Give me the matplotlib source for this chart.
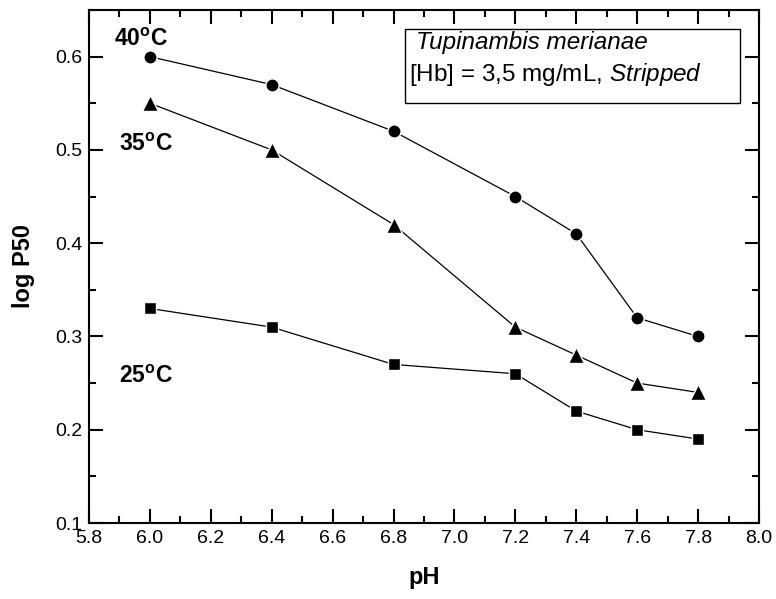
import matplotlib
matplotlib.use("Agg")
import matplotlib.pyplot as plt
from matplotlib.patches import Rectangle
from matplotlib.ticker import MultipleLocator, FormatStrFormatter

plt.rcParams["font.family"] = ["Liberation Sans", "DejaVu Sans"]
plt.rcParams["mathtext.fontset"] = "custom"
plt.rcParams["mathtext.rm"] = "Liberation Sans"
plt.rcParams["mathtext.it"] = "Liberation Sans:italic"
plt.rcParams["mathtext.bf"] = "Liberation Sans:bold"

ph = [6.0, 6.4, 6.8, 7.2, 7.4, 7.6, 7.8]
p50_40 = [0.60, 0.57, 0.52, 0.45, 0.41, 0.32, 0.30]
p50_35 = [0.55, 0.50, 0.42, 0.31, 0.28, 0.25, 0.24]
p50_25 = [0.33, 0.31, 0.27, 0.26, 0.22, 0.20, 0.19]

fig = plt.figure(figsize=(7.76, 5.99), dpi=100)
ax = fig.add_axes([89 / 776, 1 - 523 / 599, 670 / 776, 513 / 599])

style = dict(color="black", linewidth=0.9,
             markeredgecolor="white", markeredgewidth=1.0)
ax.plot(ph, p50_40, marker="o", markersize=9.5, **style)
ax.plot(ph, p50_35, marker="^", markersize=11, **style)
ax.plot(ph, p50_25, marker="s", markersize=9, **style)

ax.set_xlim(5.8, 8.0)
ax.set_ylim(0.1, 0.65)
ax.xaxis.set_major_locator(MultipleLocator(0.2))
ax.xaxis.set_minor_locator(MultipleLocator(0.1))
ax.yaxis.set_major_locator(MultipleLocator(0.1))
ax.yaxis.set_minor_locator(MultipleLocator(0.05))
ax.xaxis.set_major_formatter(FormatStrFormatter("%.1f"))
ax.yaxis.set_major_formatter(FormatStrFormatter("%.1f"))
ax.tick_params(which="both", direction="in", top=True, right=True, width=1.5,
               labelsize=14)
ax.tick_params(which="major", length=10, pad=5)
ax.tick_params(which="minor", length=5)
for s in ax.spines.values():
  s.set_linewidth(1.5)

ax.set_xlabel("pH", fontsize=17, fontweight="bold", labelpad=14)
ax.set_ylabel("log P50", fontsize=17, fontweight="bold", labelpad=14)

lab = dict(fontsize=16.5, fontweight="bold", ha="left", va="center")
ax.text(5.882, 0.618, r"40$^{\mathbf{o}}$C", **lab)
ax.text(5.897, 0.506, r"35$^{\mathbf{o}}$C", **lab)
ax.text(5.897, 0.257, r"25$^{\mathbf{o}}$C", **lab)

ax.add_patch(Rectangle(((405 - 89) / 670, (523 - 103) / 513), 335 / 670, 74 / 513,
                       transform=ax.transAxes, fill=False, linewidth=1.0))
ax.text((416 - 89) / 670, (523 - 42) / 513, "Tupinambis merianae", style="italic",
        fontsize=17.5, transform=ax.transAxes, va="center")
ax.text((409 - 89) / 670, (523 - 74) / 513, r"[Hb] = 3,5 mg/mL, $\it{Stripped}$",
        fontsize=17.5, transform=ax.transAxes, va="center")

fig.savefig("out.png", dpi=100)
